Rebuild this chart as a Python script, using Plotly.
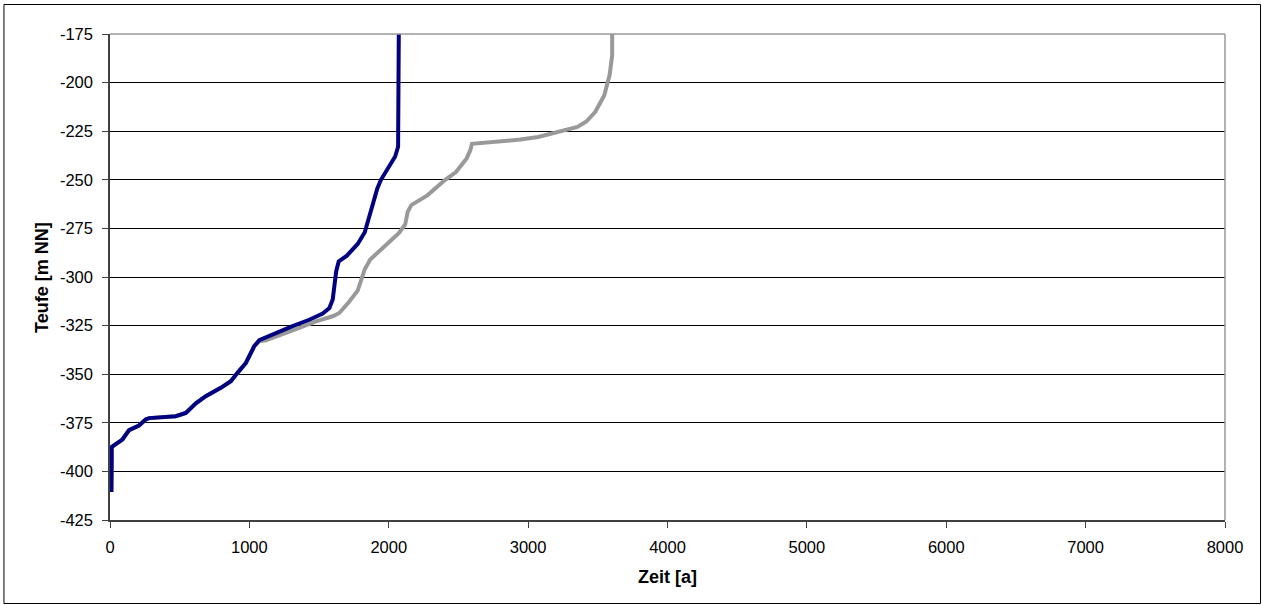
import plotly.graph_objects as go

# Series 1 (navy): time [a] vs depth [m NN]
blue_t = [2072, 2072, 2067, 2046, 1944, 1918, 1892, 1854, 1828, 1777, 1700, 1641, 1623, 1598,
          1574, 1526, 1430, 1310, 1190, 1071, 1035, 1011, 975, 915, 867, 795, 687, 616, 544,
          472, 280, 256, 208, 137, 89, 41, 12, 12, 10]
blue_d = [-175, -225, -233, -238, -250, -254.4, -261, -272, -277, -283, -289, -292, -297, -311.6,
          -316, -318.8, -322, -325.3, -328.8, -332.5, -335.6, -339, -344.2, -349.3, -353.6, -357,
          -361.3, -365, -369.9, -371.6, -372.6, -373.3, -376.4, -378.8, -383.6, -386, -387.5,
          -393.8, -410.6]

# Series 2 (gray)
gray_t = [3603, 3603, 3585, 3546, 3482, 3418, 3354, 3226, 3072, 2944, 2738, 2597, 2585, 2559,
          2482, 2405, 2277, 2162, 2136, 2118, 2072, 1969, 1867, 1828, 1803, 1777, 1713, 1645,
          1598, 1478, 1358, 1238, 1119, 1071, 1035, 1011, 975, 915, 867, 795, 687, 616, 544,
          472, 280, 256, 208, 137, 89, 41, 12, 12, 10]
gray_d = [-175, -186, -196, -206.6, -215, -220, -222.8, -225, -228, -229.3, -230.5, -231.5,
          -234.8, -239, -246, -250, -258, -263, -266.4, -273, -277.5, -284, -291, -296, -302,
          -307, -313, -318.5, -320.2, -322.8, -326.2, -329.3, -332.5, -333, -335.6, -339,
          -344.2, -349.3, -353.6, -357, -361.3, -365, -369.9, -371.6, -372.6, -373.3, -376.4,
          -378.8, -383.6, -386, -387.5, -393.8, -410.6]

x_ticks = [0, 1000, 2000, 3000, 4000, 5000, 6000, 7000, 8000]
y_ticks = [-175, -200, -225, -250, -275, -300, -325, -350, -375, -400, -425]

FONT = "Liberation Sans, Arial, sans-serif"
TICK_SIZE = 16.5
TITLE_SIZE = 18

fig = go.Figure()
fig.add_trace(go.Scatter(x=gray_t, y=gray_d, mode="lines",
                         line=dict(color="#999999", width=4), showlegend=False))
fig.add_trace(go.Scatter(x=blue_t, y=blue_d, mode="lines",
                         line=dict(color="#000080", width=4), showlegend=False))

L, R, T, B = 110.5, 1225, 34, 520
W, H = R - L, B - T

def px(xp):
    return (xp - L) / W

def py(yp):
    return (B - yp) / H

fig.update_layout(
    width=1262, height=605,
    margin=dict(l=110, r=37, t=34, b=85, pad=0),
    paper_bgcolor="white", plot_bgcolor="white",
    font=dict(family=FONT, size=TICK_SIZE, color="black"),
    xaxis=dict(range=[0, 8000], tickvals=x_ticks, ticktext=[str(v) for v in x_ticks],
               showgrid=False, zeroline=False, showline=True, linecolor="#404040",
               linewidth=1.5, ticks="outside", ticklen=6, tickcolor="#404040",
               ticklabelstandoff=5, tickfont=dict(size=TICK_SIZE, family=FONT)),
    yaxis=dict(range=[-425, -175], tickvals=y_ticks, ticktext=[str(v) for v in y_ticks],
               showgrid=True, gridcolor="black", gridwidth=1, zeroline=False,
               showline=True, linecolor="#404040", linewidth=1.5, ticks="outside",
               ticklen=6, tickcolor="#404040", ticklabelstandoff=6,
               tickfont=dict(size=TICK_SIZE, family=FONT)),
    shapes=[
        # plot-area top and right border (gray)
        dict(type="line", xref="paper", yref="paper", x0=0, x1=1, y0=1, y1=1,
             line=dict(color="#999999", width=1.5), layer="above"),
        dict(type="line", xref="paper", yref="paper", x0=1, x1=1, y0=0, y1=1,
             line=dict(color="#999999", width=1.5), layer="above"),
        # outer chart border
        dict(type="rect", xref="paper", yref="paper",
             x0=px(4.5), x1=px(1260.5), y0=py(603.5), y1=py(4.5),
             line=dict(color="black", width=1), layer="above"),
    ],
    annotations=[
        dict(text="<b>Zeit [a]</b>", xref="paper", yref="paper", x=px(667.5), y=py(577),
             showarrow=False, xanchor="center", yanchor="middle",
             font=dict(size=TITLE_SIZE, family=FONT)),
        dict(text="<b>Teufe [m NN]</b>", xref="paper", yref="paper", x=px(42.5), y=py(277),
             showarrow=False, xanchor="center", yanchor="middle", textangle=-90,
             font=dict(size=TITLE_SIZE, family=FONT)),
    ],
)

fig.write_html("out.html", config={"displayModeBar": False},
               post_script="document.body.style.margin='0';document.body.style.overflow='hidden';")
